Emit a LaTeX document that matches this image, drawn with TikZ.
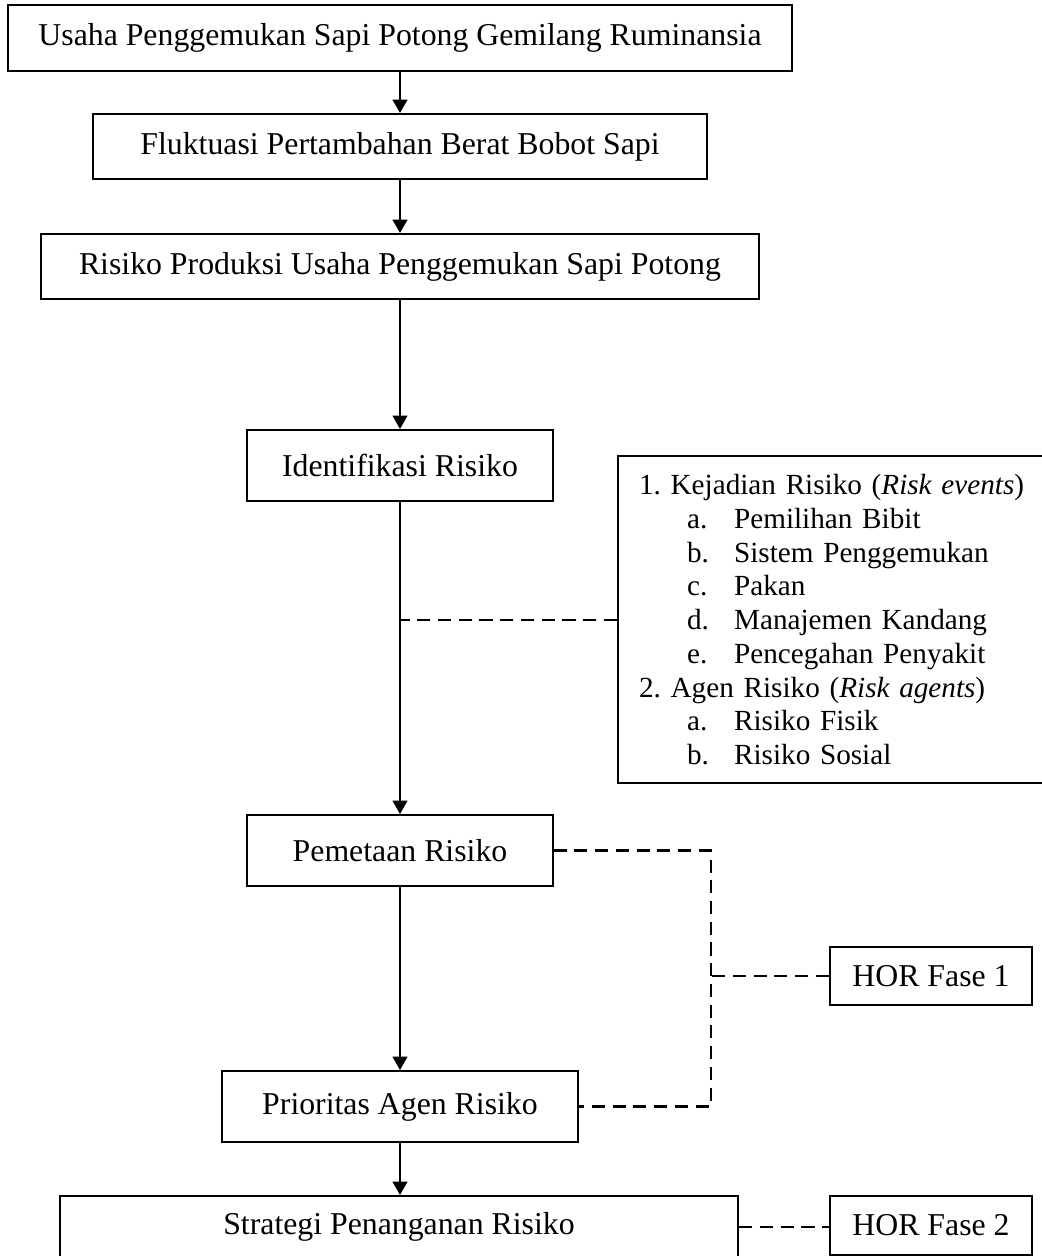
\documentclass[tikz,border=0pt]{standalone}
\usepackage{fontspec}
\setmainfont{Liberation Serif}
\usepackage{xcolor}
\definecolor{flink}{HTML}{000000}
\usepackage{tikz}
\usetikzlibrary{arrows.meta,positioning,calc}
\newcommand{\flteks}{\fontsize{9.04pt}{9.6pt}\selectfont\frenchspacing}
\newcommand{\flkecil}{\fontsize{8.3pt}{9.6pt}\selectfont\frenchspacing}
\newcommand{\flsub}[2]{\hspace*{0.48cm}\makebox[0.47cm][l]{#1}#2}
\tikzset{
  flkotak/.style ={rectangle, draw=flink, fill=white, line width=0.6pt,
                   inner sep=0pt, align=center, font=\flteks, text=flink},
  fldaftar/.style={rectangle, draw=flink, fill=white, line width=0.6pt,
                   inner xsep=0.21cm, inner ysep=0pt, text width=4.1cm,
                   align=left, font=\flkecil, text=flink},
  flpanah/.style ={-{Triangle[length=3.8pt,width=4.2pt]}, line width=0.6pt, draw=flink},
  flputus/.style ={line width=0.6pt, draw=flink, dash pattern=on 3.7pt off 2.2pt},
}

\begin{document}
\begin{tikzpicture}[x=0.01cm, y=-0.01cm]
  \useasboundingbox (0,0) rectangle (1041,1256);
  \node[flkotak, minimum width=7.84cm, minimum height=0.66cm] (usaha) at (400,38)
       {Usaha Penggemukan Sapi Potong Gemilang Ruminansia};
  \node[flkotak, minimum width=6.14cm, minimum height=0.65cm] (fluktuasi) at (400,146.5)
       {Fluktuasi Pertambahan Berat Bobot Sapi};
  \node[flkotak, minimum width=7.18cm, minimum height=0.65cm] (produksi) at (400,266.5)
       {Risiko Produksi Usaha Penggemukan Sapi Potong};
  \node[flkotak, minimum width=3.05cm, minimum height=0.71cm] (identifikasi) at (400,465.5)
       {Identifikasi Risiko};
  \node[fldaftar, anchor=north west, minimum height=3.27cm] (daftar) at (617,455)
       {1. Kejadian Risiko (\emph{Risk events})\\
        \flsub{a.}{Pemilihan Bibit}\\
        \flsub{b.}{Sistem Penggemukan}\\
        \flsub{c.}{Pakan}\\
        \flsub{d.}{Manajemen Kandang}\\
        \flsub{e.}{Pencegahan Penyakit}\\
        2. Agen Risiko (\emph{Risk agents})\\
        \flsub{a.}{Risiko Fisik}\\
        \flsub{b.}{Risiko Sosial}};
  \node[flkotak, minimum width=3.05cm, minimum height=0.71cm] (pemetaan) at (400,850.5)
       {Pemetaan Risiko};
  \node[flkotak, minimum width=3.56cm, minimum height=0.71cm] (prioritas) at (400,1106.5)
       {Prioritas Agen Risiko};
  \node[flkotak, minimum width=6.78cm, minimum height=0.62cm] (strategi) at (399,1227)
       {Strategi Penanganan Risiko};
  \node[flkotak, minimum width=2.02cm, minimum height=0.58cm] (hor1) at (931,976)
       {HOR Fase 1};
  \node[flkotak, minimum width=2.02cm, minimum height=0.59cm] (hor2) at (931,1225.5)
       {HOR Fase 2};

  \draw[flpanah] (usaha) -- (fluktuasi);
  \draw[flpanah] (fluktuasi) -- (produksi);
  \draw[flpanah] (produksi) -- (identifikasi);
  \draw[flpanah] (identifikasi) -- (pemetaan);
  \draw[flpanah] (pemetaan) -- (prioritas);
  \draw[flpanah] (prioritas.south) -- (prioritas.south |- strategi.north);
  \draw[flputus] (daftar.west) -- (daftar.west -| identifikasi.south);
  \draw[flputus] (pemetaan.east) -- ++(157,0) coordinate (sudut) |- (prioritas.east);
  \draw[flputus] (hor1.west) -- (hor1.west -| sudut);
  \draw[flputus] (strategi.east) -- (strategi.east -| hor2.west);
\end{tikzpicture}
\end{document}
